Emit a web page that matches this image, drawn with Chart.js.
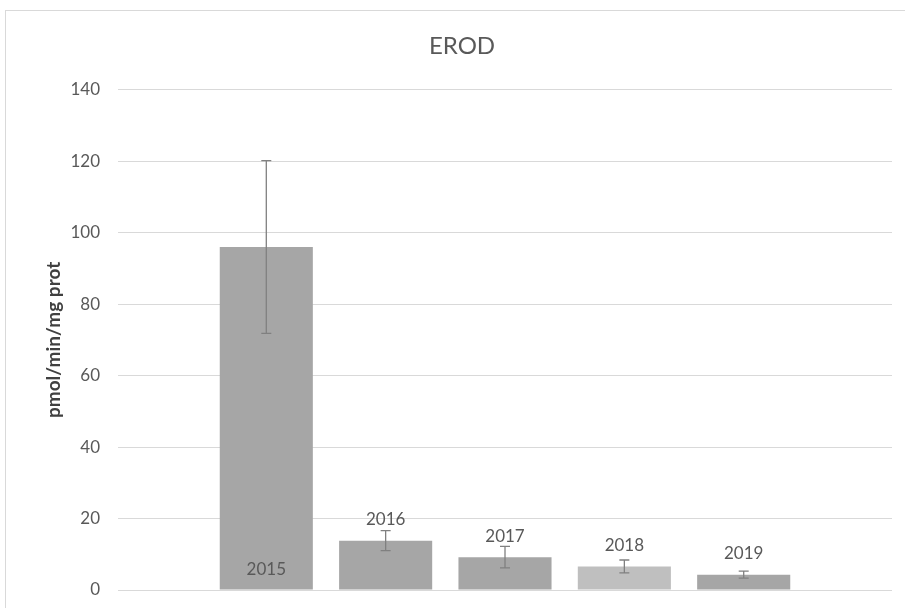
<!DOCTYPE html>
<html>
<head>
<meta charset="utf-8">
<script src="https://cdn.jsdelivr.net/npm/chart.js@4"></script>
<style>
  html, body { margin: 0; padding: 0; background: #fff; overflow: hidden; }
  #frame {
    position: absolute;
    left: 5px;
    top: 10px;
    border-top: 1px solid #d9d9d9;
    border-left: 1px solid #d9d9d9;
  }
  canvas { display: block; }
</style>
</head>
<body>
<div id="frame">
  <canvas id="erodChart" width="912" height="620"></canvas>
</div>
<script>
let years = ["2015", "2016", "2017", "2018", "2019"];
let means = [96, 13.8, 9.2, 6.6, 4.3];
let errors = [24.2, 2.8, 3.0, 1.8, 1.0];
let yTicks = [0, 20, 40, 60, 80, 100, 120, 140];

let barColors = ["#a6a6a6", "#a6a6a6", "#a6a6a6", "#bfbfbf", "#a6a6a6"];

Chart.defaults.font.family = "Lato, 'Open Sans', sans-serif";
Chart.defaults.color = "#595959";

// error bars + the year labels on each bar
let barExtras = {
  id: "barExtras",
  afterDatasetsDraw(chart) {
    let ctx = chart.ctx;
    let y = chart.scales.y;

    ctx.save();
    for (let i = 0; i < years.length; i++) {
      let bar = chart.getDatasetMeta(i).data[0];
      let top = y.getPixelForValue(means[i] + errors[i]);
      let bottom = y.getPixelForValue(means[i] - errors[i]);

      ctx.strokeStyle = "#808080";
      ctx.lineWidth = 1.3;
      ctx.beginPath();
      ctx.moveTo(bar.x, top);
      ctx.lineTo(bar.x, bottom);
      ctx.moveTo(bar.x - 5, top);
      ctx.lineTo(bar.x + 5, top);
      ctx.moveTo(bar.x - 5, bottom);
      ctx.lineTo(bar.x + 5, bottom);
      ctx.stroke();

      ctx.fillStyle = "#595959";
      ctx.font = "17px Lato, 'Open Sans', sans-serif";
      ctx.textAlign = "center";
      ctx.textBaseline = "middle";
      let labelY = i === 0 ? bar.base - 20 : bar.y - 21;
      ctx.fillText(years[i], bar.x, labelY);
    }
    ctx.restore();
  }
};

let datasets = [];
for (let i = 0; i < years.length; i++) {
  datasets.push({
    label: years[i],
    data: [means[i]],
    backgroundColor: barColors[i],
    categoryPercentage: 0.771,
    barPercentage: 0.78
  });
}

new Chart(document.getElementById("erodChart"), {
  type: "bar",
  data: {
    labels: [""],
    datasets: datasets
  },
  options: {
    responsive: false,
    animation: false,
    layout: {
      padding: { left: 26, right: 26, top: 0, bottom: 41 }
    },
    plugins: {
      legend: { display: false },
      tooltip: { enabled: false },
      title: {
        display: true,
        text: "EROD",
        color: "#595959",
        font: { size: 24, weight: "normal" },
        padding: { top: 21, bottom: 29 }
      }
    },
    scales: {
      x: {
        display: false
      },
      y: {
        min: 0,
        max: 140,
        afterBuildTicks(scale) {
          scale.ticks = yTicks.map(v => ({ value: v }));
        },
        afterFit(scale) {
          scale.width = 86;
        },
        border: { display: false },
        grid: {
          color: "#d9d9d9",
          lineWidth: 1,
          drawTicks: false
        },
        ticks: {
          padding: 18,
          color: "#595959",
          font: { size: 17 }
        },
        title: {
          display: true,
          text: "pmol/min/mg prot",
          color: "#404040",
          font: { size: 19, weight: "bold" },
          padding: { top: 10, bottom: 0 }
        }
      }
    }
  },
  plugins: [barExtras]
});
</script>
</body>
</html>
